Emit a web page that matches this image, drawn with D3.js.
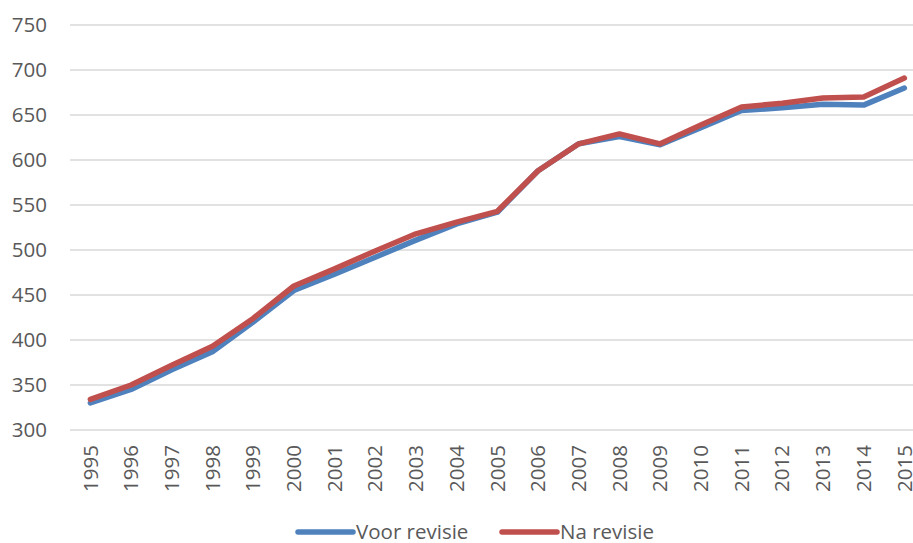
<!DOCTYPE html>
<html><head><meta charset="utf-8">
<script src="https://cdn.jsdelivr.net/npm/d3@7"></script>
<style>body{margin:0;background:#fff;} text{font-family:"Open Sans",sans-serif;fill:#595959;}</style>
</head><body><svg id="c" width="913" height="543"></svg>
<script>
const years = ["1995","1996","1997","1998","1999","2000","2001","2002","2003","2004","2005","2006","2007","2008","2009","2010","2011","2012","2013","2014","2015"];
const voorRevisie = [330,345,367,387,420,455,473,492,511,529,542,588,618,626,617,636,655,658,662,661,680];
const naRevisie   = [334,350,372,393,424,460,479,499,518,531,543,588,618,629,618,639,659,663,669,670,691];
const yTicks = [300,350,400,450,500,550,600,650,700,750];
const seriesNames = ["Voor revisie","Na revisie"];
const colors = ["#4F81BD","#C0504D"];

const svg = d3.select("#c");
const x = d3.scaleBand().domain(years).range([70, 70 + 21*40.7]);
const y = d3.scaleLinear().domain([300,750]).range([430,25]);

svg.append("g").selectAll("line").data(yTicks).join("line")
  .attr("x1",70).attr("x2",913).attr("y1",d=>y(d)).attr("y2",d=>y(d))
  .attr("stroke","#d9d9d9").attr("stroke-width",1.3);

svg.append("g").selectAll("text").data(yTicks).join("text")
  .attr("x",47).attr("y",d=>y(d)).attr("dy","0.35em").attr("text-anchor","end")
  .attr("font-size",20.5).text(d=>d);

svg.append("g").selectAll("text").data(years).join("text")
  .attr("transform",d=>`translate(${x(d)+x.bandwidth()/2},445) rotate(-90)`)
  .attr("text-anchor","end").attr("dy","0.35em").attr("font-size",20.5).text(d=>d);

const line = d3.line().x((d,i)=>x(years[i])+x.bandwidth()/2).y(d=>y(d));
[voorRevisie, naRevisie].forEach((s,k)=>{
  svg.append("path").datum(s).attr("d",line).attr("fill","none")
    .attr("stroke",colors[k]).attr("stroke-width",5.5).attr("stroke-linejoin","round").attr("stroke-linecap","round");
});

const lg = [{x:298},{x:502}];
seriesNames.forEach((n,k)=>{
  svg.append("line").attr("x1",lg[k].x).attr("x2",lg[k].x+55).attr("y1",532).attr("y2",532)
    .attr("stroke",colors[k]).attr("stroke-width",5.5).attr("stroke-linecap","round");
  svg.append("text").attr("x",lg[k].x+58).attr("y",532).attr("dy","0.35em").attr("font-size",20.5).text(n);
});
</script></body></html>
